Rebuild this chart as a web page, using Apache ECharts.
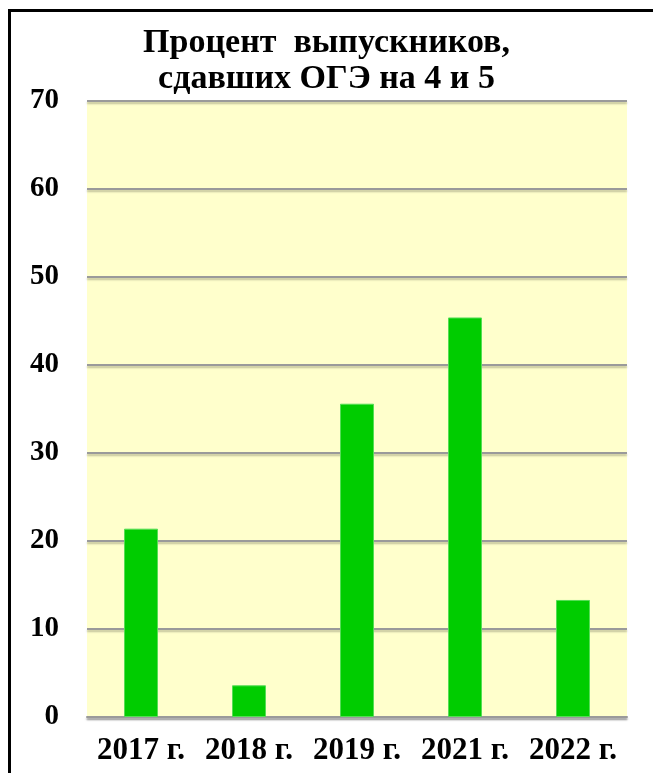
<!DOCTYPE html>
<html>
<head>
<meta charset="utf-8">
<script src="https://cdn.jsdelivr.net/npm/echarts@6/dist/echarts.min.js"></script>
<style>
html,body{margin:0;padding:0;background:#fff;}
#wrap{position:relative;width:653px;height:773px;overflow:hidden;}
#frame{position:absolute;left:8px;top:9px;width:700px;height:800px;border-top:3px solid #000;border-left:3px solid #000;}
#chart{position:absolute;left:0;top:0;width:653px;height:773px;}
</style>
</head>
<body>
<div id="wrap"><div id="frame"></div><div id="chart"></div></div>
<script>
var titleText = 'Процент  выпускников,\nсдавших ОГЭ на 4 и 5';
var categories = ['2017 г.', '2018 г.', '2019 г.', '2021 г.', '2022 г.'];
var values = [21.4, 3.6, 35.6, 45.4, 13.3];
var yMin = 0, yMax = 70, yStep = 10;

var font = '"Liberation Serif", "Times New Roman", serif';
var chart = echarts.init(document.getElementById('chart'), null, {renderer: 'canvas'});
var lineStyle = {color: '#9a9a9a', width: 2, shadowColor: 'rgba(0,0,0,0.25)', shadowBlur: 2, shadowOffsetY: 2};
chart.setOption({
  animation: false,
  backgroundColor: 'transparent',
  title: {
    text: titleText,
    left: 'center',
    top: 20,
    textStyle: {fontFamily: font, fontWeight: 'bold', fontSize: 34, lineHeight: 36, color: '#000'}
  },
  grid: {left: 87, right: 26, top: 101, bottom: 56, show: true, backgroundColor: '#FFFFCC', borderWidth: 0},
  xAxis: {
    type: 'category',
    data: categories,
    axisTick: {show: false},
    axisLine: {show: true, lineStyle: lineStyle},
    axisLabel: {fontFamily: font, fontWeight: 'bold', fontSize: 31, color: '#000', margin: 18, interval: 0}
  },
  yAxis: {
    type: 'value',
    min: yMin, max: yMax, interval: yStep,
    axisLine: {show: false},
    axisTick: {show: false},
    splitLine: {show: true, lineStyle: lineStyle},
    axisLabel: {fontFamily: font, fontWeight: 'bold', fontSize: 29, color: '#000', margin: 28}
  },
  series: [{
    type: 'bar',
    data: values,
    barWidth: 34,
    itemStyle: {color: '#00CC00', borderColor: '#55dd55', borderWidth: 1}
  }]
});
</script>
</body>
</html>
